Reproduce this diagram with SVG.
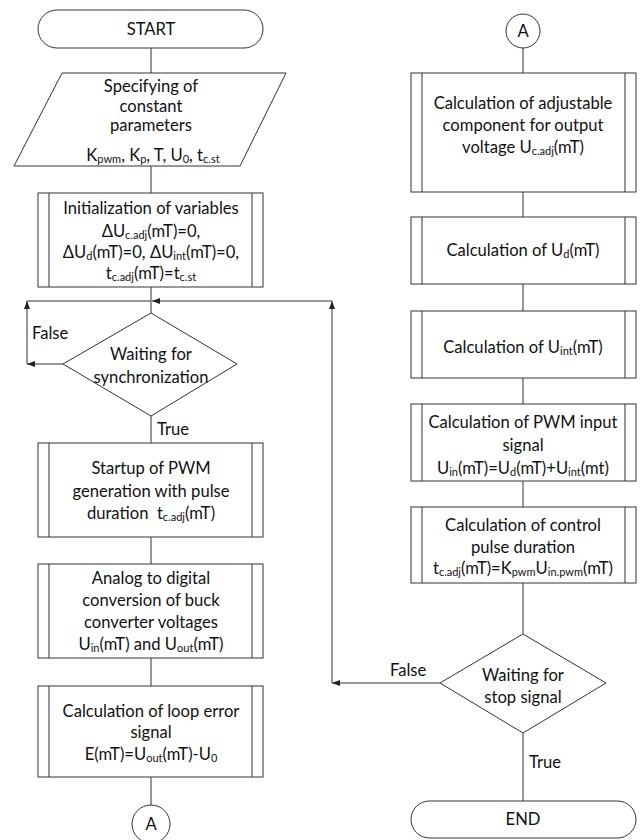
<svg xmlns="http://www.w3.org/2000/svg" width="640" height="840" viewBox="0 0 640 840">
<defs>
<marker id="ah" viewBox="0 0 8 6" refX="8" refY="3" markerWidth="8" markerHeight="6" markerUnits="userSpaceOnUse" orient="auto">
<path d="M0,0 L8,3 L0,6 z" fill="#222"/>
</marker>
<style>
.s{fill:#fff;stroke:#333;stroke-width:1}
.l{fill:none;stroke:#333;stroke-width:1}
.a{fill:none;stroke:#333;stroke-width:1;marker-end:url(#ah)}
text{font-family:Lato,"Liberation Sans",sans-serif;font-size:16.6px;fill:#111}
.c{text-anchor:middle}
.sb{font-size:11px}
</style>
</defs>
<rect width="640" height="840" fill="#fff"/>
<g id="connectors">
<line class="l" x1="151" y1="48" x2="151" y2="73"/>
<line class="l" x1="151" y1="166" x2="151" y2="193"/>
<line class="l" x1="151" y1="287" x2="151" y2="313"/>
<line class="l" x1="151" y1="416" x2="151" y2="443"/>
<line class="l" x1="151" y1="537" x2="151" y2="564"/>
<line class="l" x1="151" y1="658" x2="151" y2="686"/>
<line class="l" x1="151" y1="777" x2="151" y2="805"/>
<line class="l" x1="523" y1="48" x2="523" y2="73"/>
<line class="l" x1="523" y1="192" x2="523" y2="217"/>
<line class="l" x1="523" y1="284" x2="523" y2="311"/>
<line class="l" x1="523" y1="378" x2="523" y2="404"/>
<line class="l" x1="523" y1="481" x2="523" y2="507"/>
<line class="l" x1="523" y1="583" x2="523" y2="634"/>
<line class="l" x1="523" y1="733" x2="523" y2="801"/>
<line class="a" x1="63" y1="364" x2="27" y2="364"/>
<line class="a" x1="27" y1="364" x2="27" y2="301"/>
<line class="l" x1="27" y1="301" x2="151" y2="301"/>
<line class="a" x1="440" y1="683" x2="332" y2="683"/>
<line class="a" x1="332" y1="683" x2="332" y2="301"/>
<line class="a" x1="332" y1="301" x2="152" y2="301"/>
<text x="32" y="339">False</text>
<text x="157" y="435">True</text>
<text x="390" y="676">False</text>
<text x="529" y="768">True</text>
</g>
<g id="start">
<rect class="s" x="38" y="10" width="225" height="38" rx="19"/>
<text class="c" x="151" y="35">START</text>
</g>
<g id="constants">
<polygon class="s" points="62,73 286,73 240,166 14,166"/>
<text class="c" x="151" y="92">Specifying of</text>
<text class="c" x="151" y="112">constant</text>
<text class="c" x="151" y="131">parameters</text>
<text class="c" x="153" y="161">K<tspan class="sb" dy="2">pwm</tspan><tspan dy="-2">, K</tspan><tspan class="sb" dy="2">p</tspan><tspan dy="-2">, T, U</tspan><tspan class="sb" dy="2">0</tspan><tspan dy="-2">, t</tspan><tspan class="sb" dy="2">c.st</tspan></text>
</g>
<g id="init">
<rect class="s" x="38" y="193" width="225" height="94"/>
<line class="l" x1="49" y1="193" x2="49" y2="287"/>
<line class="l" x1="252" y1="193" x2="252" y2="287"/>
<text class="c" x="151" y="214">Initialization of variables</text>
<text class="c" x="151" y="237">ΔU<tspan class="sb" dy="2">c.adj</tspan><tspan dy="-2">(mT)=0,</tspan></text>
<text class="c" x="151" y="258">ΔU<tspan class="sb" dy="2">d</tspan><tspan dy="-2">(mT)=0, ΔU</tspan><tspan class="sb" dy="2">int</tspan><tspan dy="-2">(mT)=0,</tspan></text>
<text class="c" x="151" y="279">t<tspan class="sb" dy="2">c.adj</tspan><tspan dy="-2">(mT)=t</tspan><tspan class="sb" dy="2">c.st</tspan></text>
</g>
<g id="sync">
<polygon class="s" points="151,313 237,364 151,416 63,364"/>
<text class="c" x="151" y="360">Waiting for</text>
<text class="c" x="151" y="383">synchronization</text>
</g>
<g id="startup">
<rect class="s" x="38" y="443" width="225" height="94"/>
<line class="l" x1="49" y1="443" x2="49" y2="537"/>
<line class="l" x1="252" y1="443" x2="252" y2="537"/>
<text class="c" x="151" y="474">Startup of PWM</text>
<text class="c" x="151" y="497">generation with pulse</text>
<text class="c" x="151" y="519" xml:space="preserve">duration  t<tspan class="sb" dy="2">c.adj</tspan><tspan dy="-2">(mT)</tspan></text>
</g>
<g id="adc">
<rect class="s" x="38" y="564" width="225" height="94"/>
<line class="l" x1="49" y1="564" x2="49" y2="658"/>
<line class="l" x1="252" y1="564" x2="252" y2="658"/>
<text class="c" x="151" y="584">Analog to digital</text>
<text class="c" x="151" y="606">conversion of buck</text>
<text class="c" x="151" y="628">converter voltages</text>
<text class="c" x="151" y="650">U<tspan class="sb" dy="2">in</tspan><tspan dy="-2">(mT) and U</tspan><tspan class="sb" dy="2">out</tspan><tspan dy="-2">(mT)</tspan></text>
</g>
<g id="error">
<rect class="s" x="38" y="686" width="225" height="91"/>
<line class="l" x1="49" y1="686" x2="49" y2="777"/>
<line class="l" x1="252" y1="686" x2="252" y2="777"/>
<text class="c" x="151" y="717">Calculation of loop error</text>
<text class="c" x="151" y="738">signal</text>
<text class="c" x="151" y="760">E(mT)=U<tspan class="sb" dy="2">out</tspan><tspan dy="-2">(mT)-U</tspan><tspan class="sb" dy="2">0</tspan></text>
</g>
<g id="connA1">
<circle class="s" cx="151" cy="824" r="19"/>
<text class="c" x="151" y="830">A</text>
</g>
<g id="connA2">
<circle class="s" cx="523" cy="31" r="17"/>
<text class="c" x="523" y="37">A</text>
</g>
<g id="adjustable">
<rect class="s" x="411" y="73" width="225" height="119"/>
<line class="l" x1="422" y1="73" x2="422" y2="192"/>
<line class="l" x1="625" y1="73" x2="625" y2="192"/>
<text class="c" x="523" y="109">Calculation of adjustable</text>
<text class="c" x="523" y="131">component for output</text>
<text class="c" x="523" y="153">voltage U<tspan class="sb" dy="2">c.adj</tspan><tspan dy="-2">(mT)</tspan></text>
</g>
<g id="ud">
<rect class="s" x="411" y="217" width="225" height="67"/>
<line class="l" x1="422" y1="217" x2="422" y2="284"/>
<line class="l" x1="625" y1="217" x2="625" y2="284"/>
<text class="c" x="523" y="256">Calculation of U<tspan class="sb" dy="2">d</tspan><tspan dy="-2">(mT)</tspan></text>
</g>
<g id="uint">
<rect class="s" x="411" y="311" width="225" height="67"/>
<line class="l" x1="422" y1="311" x2="422" y2="378"/>
<line class="l" x1="625" y1="311" x2="625" y2="378"/>
<text class="c" x="523" y="353">Calculation of U<tspan class="sb" dy="2">int</tspan><tspan dy="-2">(mT)</tspan></text>
</g>
<g id="pwminput">
<rect class="s" x="411" y="404" width="225" height="77"/>
<line class="l" x1="422" y1="404" x2="422" y2="481"/>
<line class="l" x1="625" y1="404" x2="625" y2="481"/>
<text class="c" x="523" y="428">Calculation of PWM input</text>
<text class="c" x="523" y="451">signal</text>
<text class="c" x="523" y="474">U<tspan class="sb" dy="2">in</tspan><tspan dy="-2">(mT)=U</tspan><tspan class="sb" dy="2">d</tspan><tspan dy="-2">(mT)+U</tspan><tspan class="sb" dy="2">int</tspan><tspan dy="-2">(mt)</tspan></text>
</g>
<g id="pulse">
<rect class="s" x="411" y="507" width="225" height="76"/>
<line class="l" x1="422" y1="507" x2="422" y2="583"/>
<line class="l" x1="625" y1="507" x2="625" y2="583"/>
<text class="c" x="523" y="531">Calculation of control</text>
<text class="c" x="523" y="553">pulse duration</text>
<text class="c" x="523" y="574">t<tspan class="sb" dy="2">c.adj</tspan><tspan dy="-2">(mT)=K</tspan><tspan class="sb" dy="2">pwm</tspan><tspan dy="-2">U</tspan><tspan class="sb" dy="2">in.pwm</tspan><tspan dy="-2">(mT)</tspan></text>
</g>
<g id="stop">
<polygon class="s" points="523,634 606,683 523,733 440,683"/>
<text class="c" x="523" y="681">Waiting for</text>
<text class="c" x="523" y="703">stop signal</text>
</g>
<g id="end">
<rect class="s" x="411" y="801" width="225" height="37" rx="18.5"/>
<text class="c" x="523" y="825">END</text>
</g>
</svg>
